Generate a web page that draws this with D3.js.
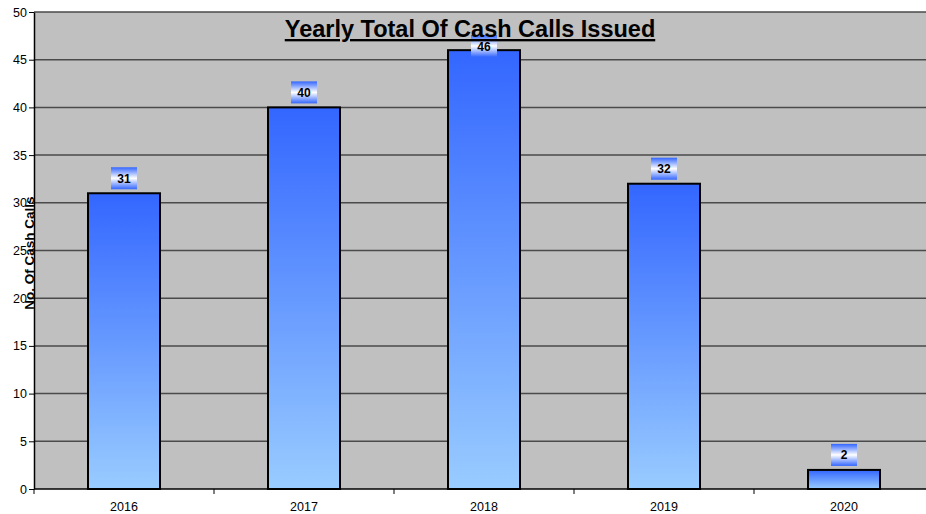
<!DOCTYPE html>
<html><head><meta charset="utf-8">
<script src="https://cdn.jsdelivr.net/npm/d3@7"></script>
<style>body{margin:0;background:#fff}svg{display:block}text{font-family:Arial,"Liberation Sans",sans-serif}</style>
</head><body>
<svg id="c" width="926" height="514"></svg>
<script>
const years = ["2016","2017","2018","2019","2020"];
const values = [31, 40, 46, 32, 2];
const yTicks = [0,5,10,15,20,25,30,35,40,45,50];
const title = "Yearly Total Of Cash Calls Issued";
const yLabel = "No. Of Cash Calls";

const svg = d3.select("#c");
const L = 34, T = 12, B = 489, R = 934;
const x = d3.scaleBand().domain(years).range([L, R]).paddingInner(0.6).paddingOuter(0.3);
const y = d3.scaleLinear().domain([0, 50]).range([B, T]);

const defs = svg.append("defs");
const bg = defs.append("linearGradient").attr("id","barg").attr("x1",0).attr("y1",0).attr("x2",0).attr("y2",1);
bg.append("stop").attr("offset","0%").attr("stop-color","#3366ff");
bg.append("stop").attr("offset","100%").attr("stop-color","#99ccff");
const lg = defs.append("linearGradient").attr("id","lblg").attr("x1",0).attr("y1",0).attr("x2",0).attr("y2",1);
lg.append("stop").attr("offset","0%").attr("stop-color","#3366ff");
lg.append("stop").attr("offset","50%").attr("stop-color","#ffffff");
lg.append("stop").attr("offset","100%").attr("stop-color","#3366ff");

svg.append("rect").attr("x",L).attr("y",T).attr("width",R-L).attr("height",B-T).attr("fill","#c0c0c0");

// gridlines
svg.append("g").selectAll("line").data(yTicks.filter(d=>d>0)).join("line")
  .attr("x1",L).attr("x2",R).attr("y1",d=>y(d)).attr("y2",d=>y(d))
  .attr("stroke","#4a4a4a").attr("stroke-width",1.5);

// bars
svg.append("g").selectAll("rect").data(values).join("rect")
  .attr("x",(d,i)=>x(years[i])).attr("width",x.bandwidth())
  .attr("y",d=>y(d)).attr("height",d=>B-y(d))
  .attr("fill","url(#barg)").attr("stroke","#000").attr("stroke-width",2);

// axes
const ya = svg.append("g").attr("transform",`translate(${L},0)`)
  .call(d3.axisLeft(y).tickValues(yTicks).tickSize(5).tickSizeOuter(0));
ya.select(".domain").attr("stroke","#000").attr("stroke-width",1.5);
ya.selectAll(".tick line").attr("stroke","#000");
ya.selectAll("text").attr("font-size",12.5).attr("fill","#000").attr("x",-7);

const xa = svg.append("g").attr("transform",`translate(0,${B})`);
xa.append("line").attr("x1",L).attr("x2",R).attr("stroke","#000").attr("stroke-width",1.5);
const step = x.step();
const bounds = d3.range(0, years.length+1).map(i => L + i*step);
xa.selectAll(".xt").data(bounds).join("line").attr("class","xt")
  .attr("x1",d=>d).attr("x2",d=>d).attr("y1",0).attr("y2",5).attr("stroke","#000");
xa.selectAll(".xl").data(years).join("text").attr("class","xl")
  .attr("x",d=>x(d)+x.bandwidth()/2).attr("y",22).attr("text-anchor","middle")
  .attr("font-size",12.5).text(d=>d);

// data labels
const lbl = svg.append("g").selectAll("g").data(values).join("g")
  .attr("transform",(d,i)=>{
    const cx = x(years[i]) + x.bandwidth()/2;
    let cy = y(d) - 15;
    if (cy < 46) cy = 46;
    return `translate(${cx},${cy})`;
  });
lbl.append("rect").attr("x",-13).attr("y",-11).attr("width",26).attr("height",22).attr("fill","url(#lblg)");
lbl.append("text").attr("text-anchor","middle").attr("y",4.5).attr("font-size",12).attr("font-weight","bold").text(d=>d);

// title
svg.append("text").attr("x",470).attr("y",37).attr("text-anchor","middle")
  .attr("font-size",23.5).attr("font-weight","bold").attr("text-decoration","underline").text(title);

// y label
svg.append("text").attr("transform","translate(34,253) rotate(-90)").attr("text-anchor","middle")
  .attr("font-size",13.5).attr("font-weight","bold").text(yLabel);
</script>
</body></html>
